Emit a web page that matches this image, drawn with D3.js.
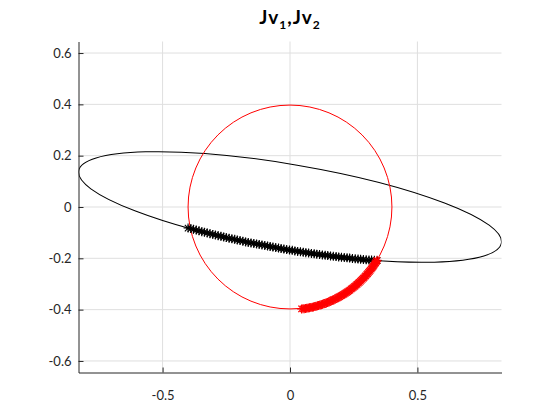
<!DOCTYPE html>
<html>
<head>
<meta charset="utf-8">
<script src="https://cdn.jsdelivr.net/npm/d3@7"></script>
<style>
  body { margin: 0; background: #fff; }
  .tick text { font-family: Lato, sans-serif; font-size: 13px; fill: #262626; }
</style>
</head>
<body>
<div id="chart"></div>
<script>
// axis ticks
var xTicks = [-0.5, 0, 0.5];
var yTicks = [-0.6, -0.4, -0.2, 0, 0.2, 0.4, 0.6];

// red circle (radius) and black ellipse (semi axes, tilt in degrees)
var circleRadius = [0.4];
var ellipseAxes = [0.8415, 0.1655];
var ellipseTilt = [-9.7];

// black stars, on the lower side of the ellipse
var blackX = [-0.400, -0.389, -0.379, -0.368, -0.357, -0.346, -0.336, -0.325, -0.314, -0.303,
  -0.293, -0.282, -0.271, -0.260, -0.250, -0.239, -0.228, -0.217, -0.207, -0.196,
  -0.185, -0.174, -0.164, -0.153, -0.142, -0.131, -0.121, -0.110, -0.099, -0.088,
  -0.078, -0.067, -0.056, -0.045, -0.035, -0.024, -0.013, -0.002, 0.009, 0.019,
  0.030, 0.041, 0.052, 0.062, 0.073, 0.084, 0.095, 0.105, 0.116, 0.127,
  0.138, 0.148, 0.159, 0.170, 0.181, 0.191, 0.202, 0.213, 0.224, 0.234,
  0.245, 0.256, 0.267, 0.277, 0.288, 0.299, 0.310, 0.320, 0.331, 0.342];
var blackY = [-0.082, -0.084, -0.087, -0.090, -0.093, -0.096, -0.098, -0.101, -0.104, -0.107,
  -0.109, -0.112, -0.114, -0.117, -0.119, -0.122, -0.124, -0.126, -0.129, -0.131,
  -0.133, -0.136, -0.138, -0.140, -0.142, -0.144, -0.146, -0.148, -0.150, -0.152,
  -0.154, -0.156, -0.158, -0.160, -0.162, -0.164, -0.166, -0.168, -0.169, -0.171,
  -0.173, -0.174, -0.176, -0.178, -0.179, -0.181, -0.182, -0.184, -0.185, -0.187,
  -0.188, -0.189, -0.191, -0.192, -0.193, -0.195, -0.196, -0.197, -0.198, -0.199,
  -0.201, -0.202, -0.203, -0.204, -0.205, -0.206, -0.207, -0.207, -0.208, -0.209];

// red stars, angles (degrees) on the circle
var redAngles = [-83.5, -82.7, -82.0, -81.2, -80.5, -79.7, -79.0, -78.2, -77.4, -76.7,
  -75.9, -75.2, -74.4, -73.7, -72.9, -72.1, -71.4, -70.6, -69.9, -69.1,
  -68.4, -67.6, -66.8, -66.1, -65.3, -64.6, -63.8, -63.1, -62.3, -61.5,
  -60.8, -60.0, -59.3, -58.5, -57.8, -57.0, -56.2, -55.5, -54.7, -54.0,
  -53.2, -52.5, -51.7, -50.9, -50.2, -49.4, -48.7, -47.9, -47.2, -46.4,
  -45.7, -44.9, -44.1, -43.4, -42.6, -41.9, -41.1, -40.4, -39.6, -38.8,
  -38.1, -37.3, -36.6, -35.8, -35.1, -34.3, -33.5, -32.8, -32.0, -31.3];

var width = 560;
var height = 420;
var margin = { top: 41.5, right: 58.5, bottom: 47.5, left: 78.5 };
var chartWidth = width - margin.left - margin.right;
var chartHeight = height - margin.top - margin.bottom;

var svg = d3
  .select("#chart")
  .append("svg")
  .attr("width", width)
  .attr("height", height);

var xScale = d3.scaleLinear().domain([-0.83, 0.83]).range([0, chartWidth]);
var yScale = d3.scaleLinear().domain([-0.645, 0.645]).range([chartHeight, 0]);

var g = svg
  .append("g")
  .attr("transform", "translate(" + margin.left + "," + margin.top + ")");

svg
  .append("defs")
  .append("clipPath")
  .attr("id", "clip")
  .append("rect")
  .attr("width", chartWidth)
  .attr("height", chartHeight);

// grid
g.append("g")
  .selectAll("line")
  .data(xTicks)
  .enter()
  .append("line")
  .attr("x1", d => xScale(d))
  .attr("x2", d => xScale(d))
  .attr("y1", 0)
  .attr("y2", chartHeight)
  .attr("stroke", "#dfdfdf");

g.append("g")
  .selectAll("line")
  .data(yTicks)
  .enter()
  .append("line")
  .attr("y1", d => yScale(d))
  .attr("y2", d => yScale(d))
  .attr("x1", 0)
  .attr("x2", chartWidth)
  .attr("stroke", "#dfdfdf");

var plot = g.append("g").attr("clip-path", "url(#clip)");

// ellipse
plot
  .append("ellipse")
  .attr("cx", xScale(0))
  .attr("cy", yScale(0))
  .attr("rx", xScale(ellipseAxes[0]) - xScale(0))
  .attr("ry", yScale(0) - yScale(ellipseAxes[1]))
  .attr("transform", "rotate(" + (-ellipseTilt[0]) + "," + xScale(0) + "," + yScale(0) + ")")
  .attr("fill", "none")
  .attr("stroke", "#000")
  .attr("stroke-width", 1);

// circle
plot
  .append("circle")
  .attr("cx", xScale(0))
  .attr("cy", yScale(0))
  .attr("r", xScale(circleRadius[0]) - xScale(0))
  .attr("fill", "none")
  .attr("stroke", "#ff0000")
  .attr("stroke-width", 1);

// asterisk marker
var s = 4.5;
var d2 = s * 0.72;
var starPath =
  "M" + -s + ",0L" + s + ",0" +
  "M0," + -s + "L0," + s +
  "M" + -d2 + "," + -d2 + "L" + d2 + "," + d2 +
  "M" + -d2 + "," + d2 + "L" + d2 + "," + -d2;

var blackPts = blackX.map((x, i) => [x, blackY[i]]);
var redPts = redAngles.map(a => [
  circleRadius[0] * Math.cos(a * Math.PI / 180),
  circleRadius[0] * Math.sin(a * Math.PI / 180)
]);

plot
  .append("g")
  .selectAll("path")
  .data(blackPts)
  .enter()
  .append("path")
  .attr("d", starPath)
  .attr("transform", d => "translate(" + xScale(d[0]) + "," + yScale(d[1]) + ")")
  .attr("fill", "none")
  .attr("stroke", "#000")
  .attr("stroke-width", 1.1);

plot
  .append("g")
  .selectAll("path")
  .data(redPts)
  .enter()
  .append("path")
  .attr("d", starPath)
  .attr("transform", d => "translate(" + xScale(d[0]) + "," + yScale(d[1]) + ")")
  .attr("fill", "none")
  .attr("stroke", "#ff0000")
  .attr("stroke-width", 1.1);

// axes
var fmt = d => d === 0 ? "0" : d3.format(".1f")(d).replace("\u2212", "-");

var xAxis = d3
  .axisBottom(xScale)
  .tickValues(xTicks)
  .tickSizeInner(-5)
  .tickSizeOuter(0)
  .tickPadding(18)
  .tickFormat(fmt);

g.append("g")
  .attr("class", "x-axis")
  .attr("transform", "translate(0," + chartHeight + ")")
  .call(xAxis);

var yAxis = d3
  .axisLeft(yScale)
  .tickValues(yTicks)
  .tickSizeInner(-5)
  .tickSizeOuter(0)
  .tickPadding(12)
  .tickFormat(fmt);

g.append("g")
  .attr("class", "y-axis")
  .call(yAxis);

g.selectAll(".y-axis .tick text").attr("x", -7);
g.selectAll(".domain").attr("stroke", "#262626");
g.selectAll(".tick line").attr("stroke", "#262626");

// title
var title = svg
  .append("text")
  .attr("x", 290)
  .attr("y", 24)
  .attr("text-anchor", "middle")
  .style("font-family", "Lato, sans-serif")
  .style("font-weight", "bold")
  .style("font-size", "19px")
  .style("letter-spacing", "1px")
  .attr("fill", "#000");

title.append("tspan").text("Jv");
title.append("tspan").text("1").attr("dy", 5).style("font-size", "12px");
title.append("tspan").text(",Jv").attr("dy", -5);
title.append("tspan").text("2").attr("dy", 5).style("font-size", "12px");
</script>
</body>
</html>
